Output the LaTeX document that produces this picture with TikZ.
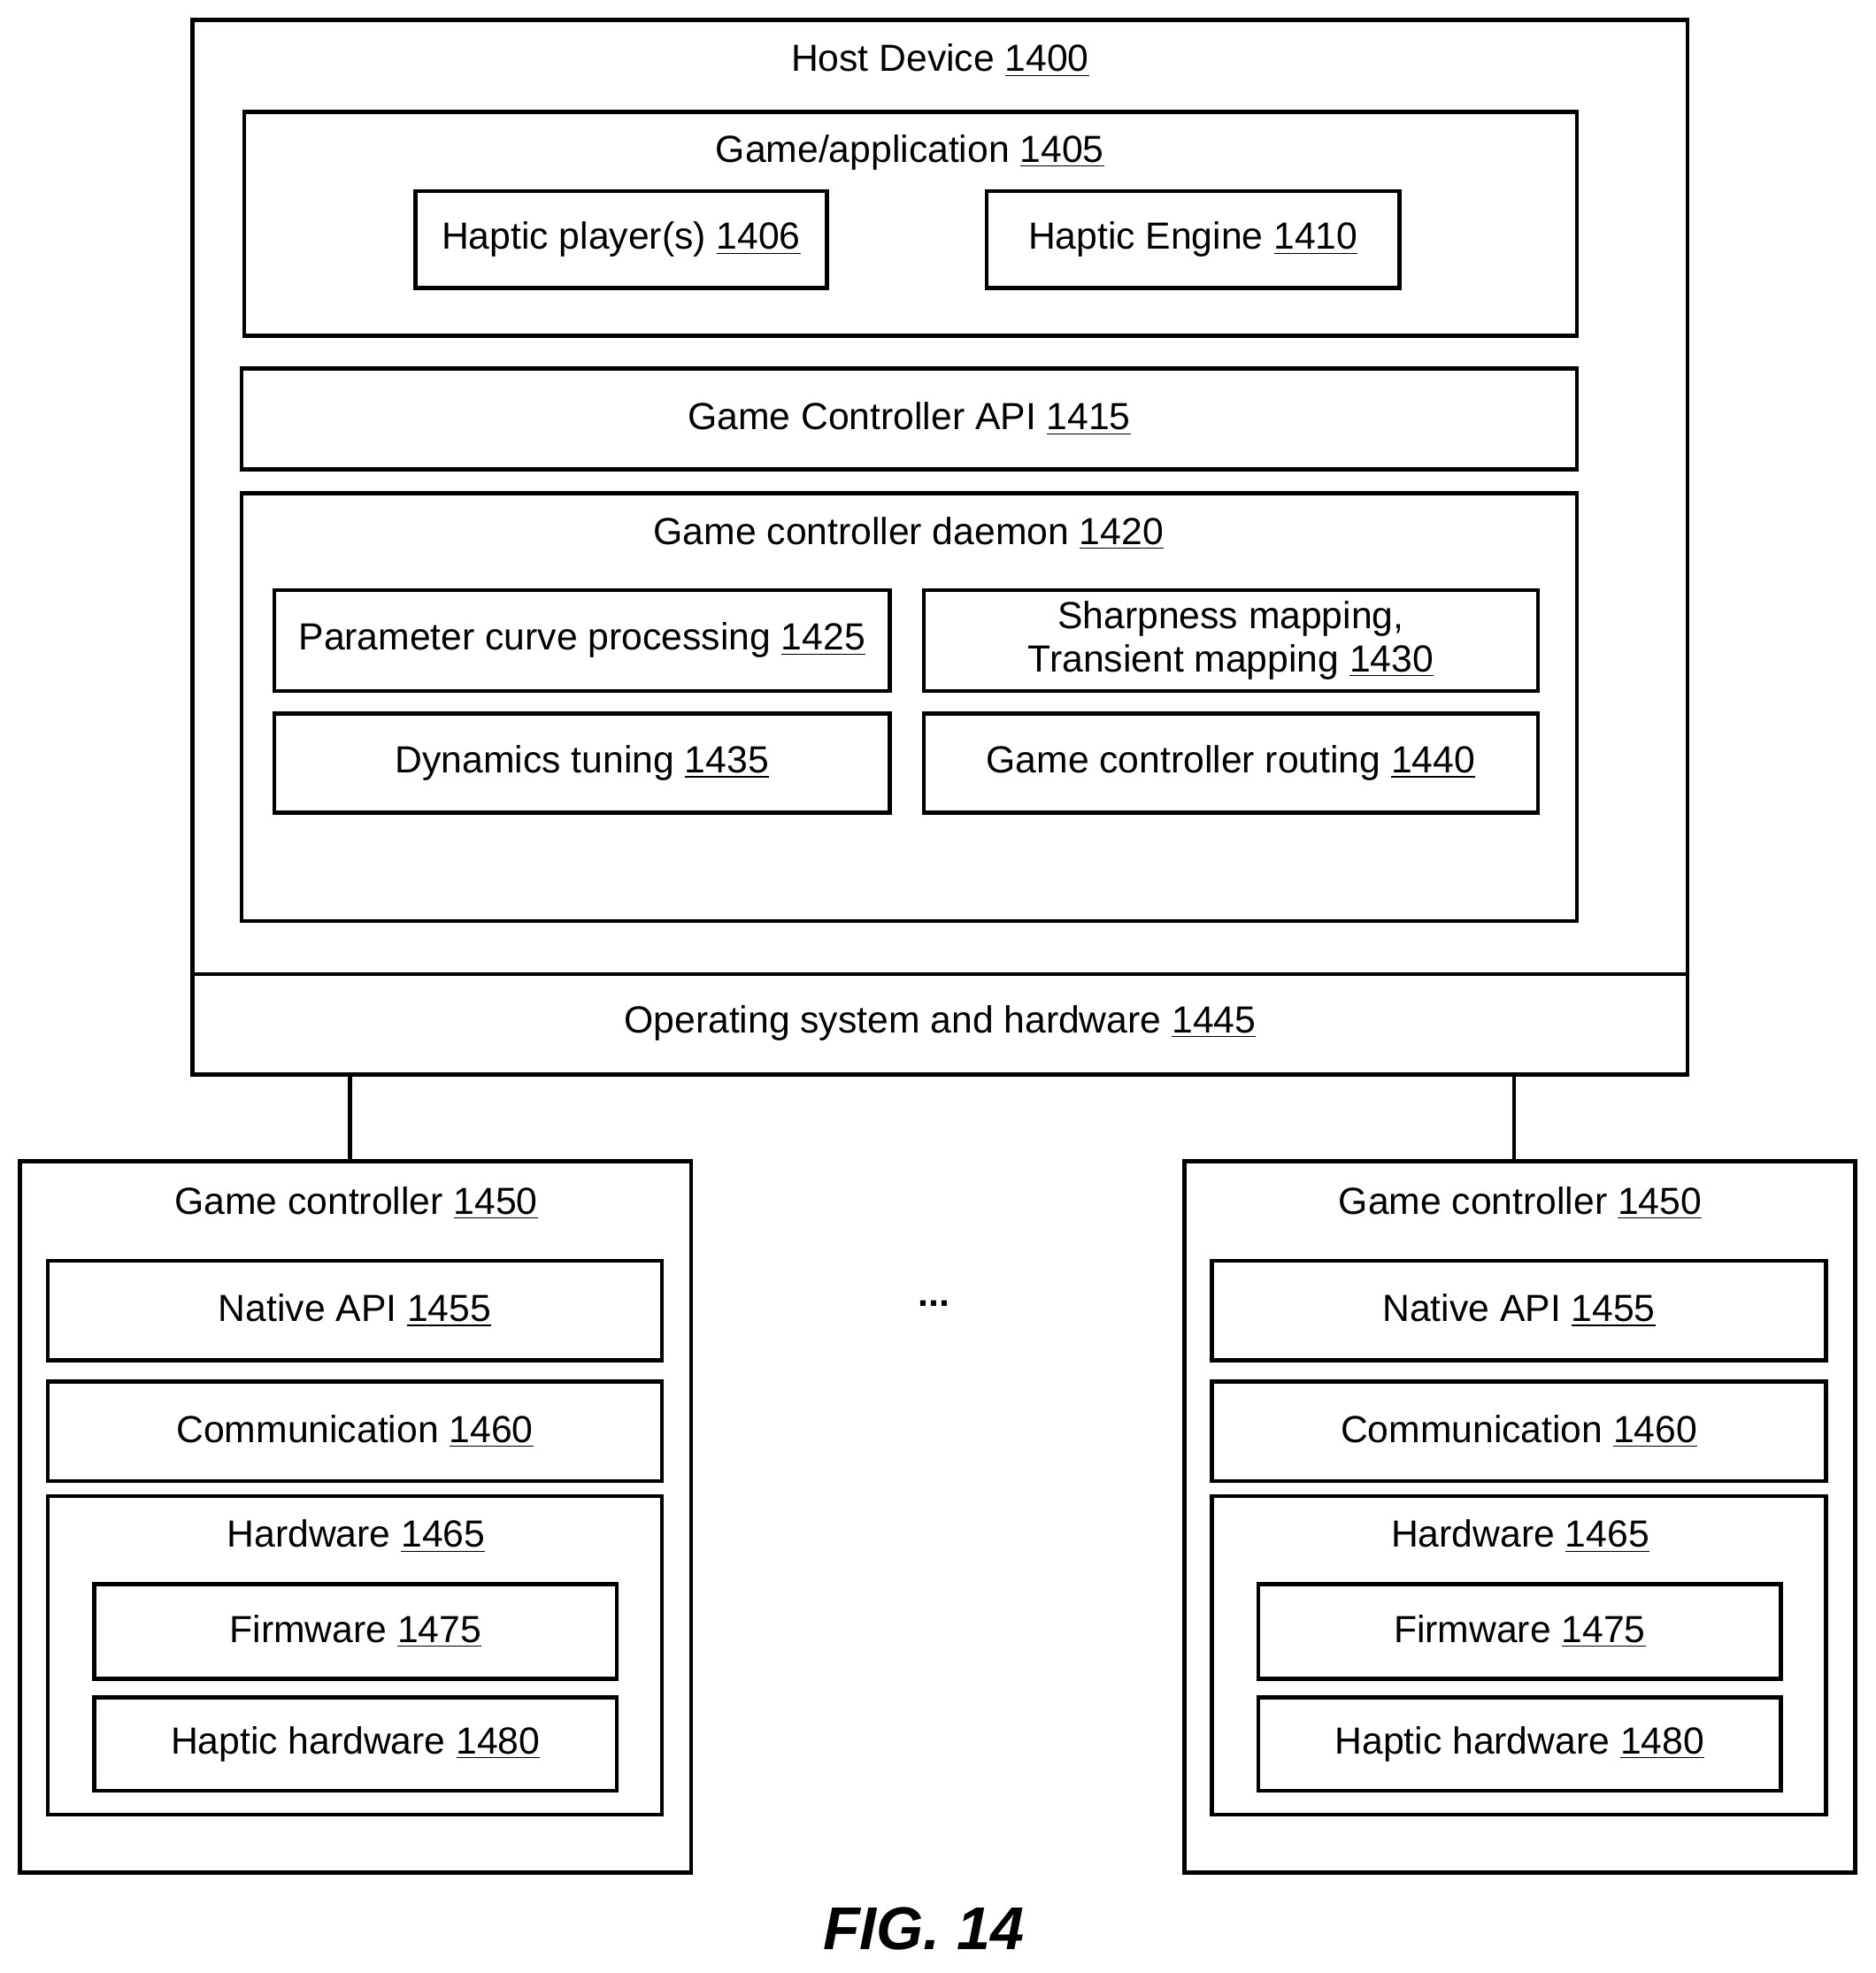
\documentclass[tikz,border=0pt]{standalone}
\usepackage{fontspec}
\setmainfont{Liberation Sans}
\usetikzlibrary{fit}
\begin{document}
\begin{tikzpicture}[x=0.5pt,y=-0.5pt,
  box/.style={draw,line width=1.6pt,inner sep=0pt},
  lab/.style={font=\fontsize{15}{17}\selectfont,align=center,inner sep=0pt},
  conn/.style={line width=1.6pt}]
\useasboundingbox (0,0) rectangle (1490,1568);
\newcommand\bx[5]{\node[box,fit={(#2,#3)(#4,#5)}] (#1) {};}
\newcommand\nm[1]{\underline{#1}}
% host
\bx{host}{153}{16}{1341}{854}
\draw[conn] (153,774) coordinate (osl) -- (1341,774) coordinate (osr);
\node[lab] (thost) at (747,48) {Host Device \nm{1400}};
\bx{app}{194}{89}{1253}{267}
\node[lab] (tapp) at (723,121) {Game/application \nm{1405}};
\bx{hp}{330}{152}{657}{229}
\node[lab] at (hp) {Haptic player(s) \nm{1406}};
\bx{he}{784}{152}{1112}{229}
\node[lab] at (he) {Haptic Engine \nm{1410}};
\bx{api}{192}{293}{1253}{373}
\node[lab] at (api) {Game Controller API \nm{1415}};
\bx{dae}{192}{392}{1253}{732}
\node[lab] (tdae) at (722,424) {Game controller daemon \nm{1420}};
\bx{pc}{218}{469}{707}{549}
\node[lab] at (pc) {Parameter curve processing \nm{1425}};
\bx{sm}{734}{469}{1222}{549}
\node[lab] at (sm) {Sharpness mapping,\\Transient mapping \nm{1430}};
\bx{dt}{218}{567}{707}{646}
\node[lab] at (dt) {Dynamics tuning \nm{1435}};
\bx{gr}{734}{567}{1222}{646}
\node[lab] at (gr) {Game controller routing \nm{1440}};
\node[lab] (tos) at (747,813) {Operating system and hardware \nm{1445}};
% controllers
\foreach \n/\dx in {l/0,r/925}{
  \bx{gc\n}{16+\dx}{923}{549+\dx}{1488}
  \node[lab] at (283+\dx,956) {Game controller \nm{1450}};
  \bx{na\n}{38+\dx}{1002}{526+\dx}{1081}
  \node[lab] at (na\n) {Native API \nm{1455}};
  \bx{co\n}{38+\dx}{1098}{526+\dx}{1177}
  \node[lab] at (co\n) {Communication \nm{1460}};
  \bx{hw\n}{38+\dx}{1189}{526+\dx}{1442}
  \node[lab] at (283+\dx,1221) {Hardware \nm{1465}};
  \bx{fw\n}{75+\dx}{1259}{490+\dx}{1334}
  \node[lab] at (fw\n) {Firmware \nm{1475}};
  \bx{hh\n}{75+\dx}{1349}{490+\dx}{1423}
  \node[lab] at (hh\n) {Haptic hardware \nm{1480}};
}
\coordinate (cl) at (278,923);
\coordinate (cr) at (1203,923);
\draw[conn] (cl |- host.south) -- (cl);
\draw[conn] (cr |- host.south) -- (cr);
\node[lab,font=\fontsize{15}{17}\selectfont\bfseries] (dots) at (742,1036) {...};
\node[lab,font=\fontsize{24}{28}\selectfont\bfseries\itshape] (fig) at (734,1533) {FIG. 14};
\end{tikzpicture}
\end{document}
